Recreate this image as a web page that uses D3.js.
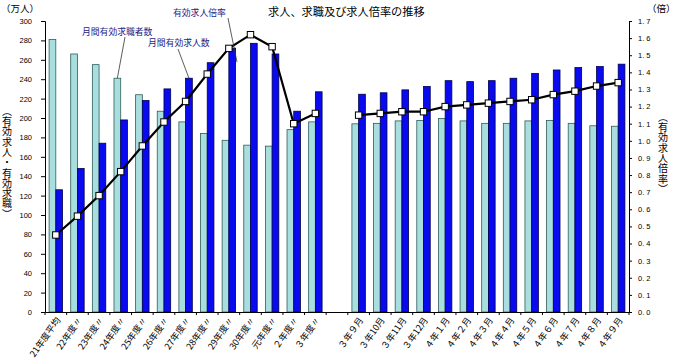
<!DOCTYPE html>
<html><head><meta charset="utf-8">
<script src="https://cdn.jsdelivr.net/npm/d3@7"></script>
<style>
html,body{margin:0;padding:0;background:#fff;}
svg{display:block;}
text{font-family:"Noto Sans CJK JP","Noto Sans",sans-serif;}
.num{font-family:"Liberation Sans",Arial,sans-serif;}
.vert{writing-mode:vertical-rl;text-orientation:upright;}
</style></head>
<body>
<svg id="c" width="680" height="364"></svg>
<script>
// ---- data ----
const annualLabels = ["21年度平均","22年度〃","23年度〃","24年度〃","25年度〃","26年度〃","27年度〃","28年度〃","29年度〃","30年度〃","元年度〃","２年度〃","３年度〃"];
const monthlyLabels = ["３年９月","３年10月","３年11月","３年12月","４年１月","４年２月","４年３月","４年４月","４年５月","４年６月","４年７月","４年８月","４年９月"];
const seekersAnnual = [281,266,255,241,224,207,196,184,177,172,171,188,196];
const seekersMonthly = [194,194.5,197,197.5,199.5,197,194.5,194.5,197,197.5,194.5,192,191.5];
const openingsAnnual = [126,148,174,198,218,230,241,257,272,277,266,207,227];
const openingsMonthly = [224.5,226,229,232.5,238.5,237.5,238.5,241,246,249.5,252,253,255.5];
const ratioAnnual = [0.45,0.56,0.68,0.82,0.97,1.11,1.23,1.39,1.54,1.62,1.55,1.10,1.16];
const ratioMonthly = [1.15,1.16,1.17,1.17,1.20,1.21,1.22,1.23,1.24,1.27,1.29,1.32,1.34];
const leftTicks = d3.range(0,301,20);
const rightTicks = d3.range(0,18).map(i=>i/10);
const GAP = "__gap__";

const svg = d3.select("#c");
const x0=45,x1=629,yTop=21,yBot=312;

const cats = [...annualLabels, GAP, ...monthlyLabels];
const x = d3.scaleBand().domain(cats).range([x0,x1]).padding(0);
const xi = d3.scaleBand().domain(["s","o"]).range([0,x.bandwidth()]).paddingInner(0).paddingOuter(0.61);
const yL = d3.scaleLinear().domain([0,300]).range([yBot,yTop]);
const yR = d3.scaleLinear().domain([0,1.7]).range([yBot,yTop]);

const rows = [];
annualLabels.forEach((c,i)=>rows.push({c, s:seekersAnnual[i], o:openingsAnnual[i], r:ratioAnnual[i], g:0}));
monthlyLabels.forEach((c,i)=>rows.push({c, s:seekersMonthly[i], o:openingsMonthly[i], r:ratioMonthly[i], g:1}));

// bars
const gBars = svg.append("g");
gBars.selectAll("rect.s").data(rows).join("rect")
  .attr("x",d=>x(d.c)+xi("s")).attr("width",xi.bandwidth())
  .attr("y",d=>yL(d.s)).attr("height",d=>yBot-yL(d.s))
  .attr("fill","#a9dede").attr("stroke","#2e5c5a").attr("stroke-width",0.8);
gBars.selectAll("rect.o").data(rows).join("rect")
  .attr("x",d=>x(d.c)+xi("o")).attr("width",xi.bandwidth())
  .attr("y",d=>yL(d.o)).attr("height",d=>yBot-yL(d.o))
  .attr("fill","#0a0af0").attr("stroke","#00004a").attr("stroke-width",0.8);

// axes
const axL = d3.axisLeft(yL).tickValues(leftTicks).tickSize(4).tickPadding(9).tickFormat(d3.format("d"));
const gL = svg.append("g").attr("transform",`translate(${x0},0)`).call(axL);
const axR = d3.axisRight(yR).tickValues(rightTicks).tickSize(3).tickPadding(6).tickFormat(d=>d.toFixed(1).replace(".",". "));
const gR = svg.append("g").attr("transform",`translate(${x1},0)`).call(axR);
const axB = d3.axisBottom(x).tickSize(0).tickFormat(d=>d===GAP?"":d);
const gB = svg.append("g").attr("transform",`translate(0,${yBot})`).call(axB);
[gL,gR,gB].forEach(g=>{
  g.select(".domain").attr("stroke","#000").attr("stroke-width",1);
  g.selectAll(".tick line").attr("stroke","#000");
});
gL.selectAll("text").attr("class","num").attr("font-size",7.5).attr("fill","#000");
gR.selectAll("text").attr("class","num").attr("font-size",7.5).attr("fill","#000");
gB.selectAll(".tick text")
  .attr("font-size",9).attr("fill","#000")
  .attr("text-anchor","end").attr("dy",0).attr("y",0)
  .attr("transform",`translate(5,8) rotate(-55)`);
// category boundary ticks
const bounds = cats.map(c=>x(c)).concat([x1]);
svg.append("g").selectAll("line").data(bounds).join("line")
  .attr("x1",d=>d).attr("x2",d=>d).attr("y1",yBot).attr("y2",yBot+3)
  .attr("stroke","#000").attr("stroke-width",1);

// ratio line
const line = d3.line().x(d=>x(d.c)+x.bandwidth()/2).y(d=>yR(d.r));
[0,1].forEach(g=>{
  svg.append("path").datum(rows.filter(d=>d.g===g)).attr("d",line)
    .attr("fill","none").attr("stroke","#000").attr("stroke-width",2.2);
});
svg.append("g").selectAll("rect").data(rows).join("rect")
  .attr("x",d=>x(d.c)+x.bandwidth()/2-3.2).attr("y",d=>yR(d.r)-3.2)
  .attr("width",6.4).attr("height",6.4)
  .attr("fill","#fff").attr("stroke","#000").attr("stroke-width",1);

// titles
svg.append("text").attr("x",268).attr("y",16).attr("font-size",11.2).attr("fill","#000").text("求人、求職及び求人倍率の推移");
svg.append("text").attr("x",1).attr("y",12).attr("font-size",9.5).attr("fill","#000").text("（万人）");
svg.append("text").attr("x",647).attr("y",12).attr("font-size",9.5).attr("fill","#000").text("（倍）");
svg.append("text").attr("class","vert").attr("x",7).attr("y",106).attr("font-size",10)
  .attr("letter-spacing",0.3).attr("fill","#000").text("︵有効求人・有効求職︶");
svg.append("text").attr("class","vert").attr("x",663).attr("y",112).attr("font-size",10)
  .attr("letter-spacing",0.3).attr("fill","#000").text("︵有効求人倍率︶");

// annotations
const ann = svg.append("g");
const navy = "#1c1c84";
const r24 = rows[3], r27 = rows[6];
ann.append("text").attr("x",82).attr("y",35).attr("font-size",8.8).attr("fill",navy).text("月間有効求職者数");
ann.append("line").attr("x1",125).attr("y1",37).attr("x2",x(r24.c)+xi("s")+xi.bandwidth()/2).attr("y2",yL(r24.s))
  .attr("stroke","#333").attr("stroke-width",0.8);
ann.append("text").attr("x",148).attr("y",46).attr("font-size",8.8).attr("fill",navy).text("月間有効求人数");
ann.append("line").attr("x1",178).attr("y1",49).attr("x2",x(r27.c)+xi("o")+xi.bandwidth()/2).attr("y2",yL(r27.o))
  .attr("stroke","#333").attr("stroke-width",0.8);
ann.append("text").attr("x",173).attr("y",16).attr("font-size",8.8).attr("fill",navy).text("有効求人倍率");
ann.append("line").attr("x1",228).attr("y1",18).attr("x2",237).attr("y2",yR(1.46))
  .attr("stroke","#333").attr("stroke-width",0.8);
</script>
</body></html>
